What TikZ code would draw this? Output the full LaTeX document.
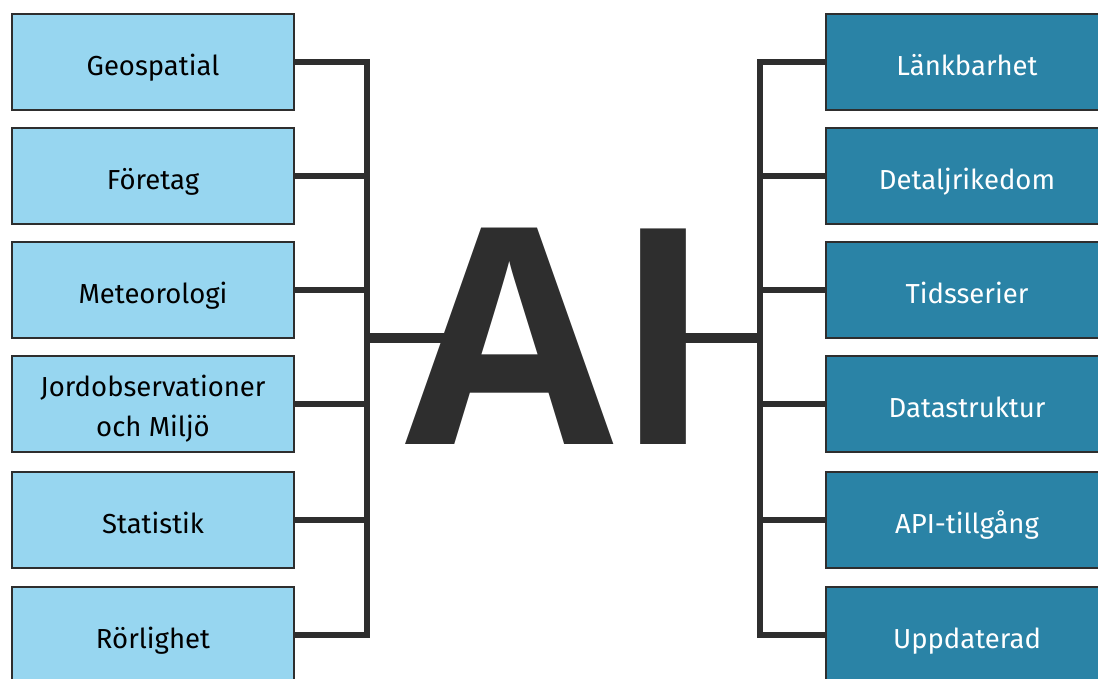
\documentclass[tikz,border=0pt]{standalone}
\usepackage{fontspec}
\setmainfont{Fira Sans}
\newfontfamily\aifont{Open Sans}
\usetikzlibrary{positioning}

\definecolor{ljusbla}{HTML}{97D6F0}
\definecolor{morkbla}{HTML}{2A83A6}
\definecolor{kol}{HTML}{2E2E2E}

\tikzset{
  kalla/.style={draw=kol, line width=2pt, fill=ljusbla, minimum width=282pt,
    minimum height=96pt, inner sep=0pt, align=center,
    font=\fontsize{27.5}{40}\selectfont},
  rad/.style={text height=26pt, text depth=0pt},
  krav/.style={kalla, rad, fill=morkbla, text=white},
  gren/.style={draw=kol, line width=6.5pt},
}

\begin{document}
\begin{tikzpicture}[x=1pt,y=-1pt]
  \useasboundingbox (0,0) rectangle (1098,678);
  \clip (0,0) rectangle (1098,678);
  \coordinate (navV) at (367,338);
  \coordinate (navH) at (760,338);
  \coordinate (aiV) at (445,338);
  \coordinate (aiH) at (680,338);

  %% datakallor
  \node[kalla, rad] (geo) at (153,62) {Geospatial};
  \node[kalla, rad] (foretag) at (153,176) {Företag};
  \node[kalla, rad] (meteo) at (153,290) {Meteorologi};
  \node[kalla] (jord) at (153,404)
    {\rule{0pt}{31pt}Jordobservationer\\och Miljö};
  \node[kalla, rad] (stat) at (153,520) {Statistik};
  \node[kalla, rad] (rorlig) at (153,635) {Rörlighet};

  %% egenskaper
  \node[krav] (lank) at (967,62) {Länkbarhet};
  \node[krav] (detalj) at (967,176) {Detaljrikedom};
  \node[krav] (tids) at (967,290) {Tidsserier};
  \node[krav] (datastr) at (967,404) {Datastruktur};
  \node[krav] (api) at (967,520) {API-tillgång};
  \node[krav] (uppd) at (967,635) {Uppdaterad};

  \draw[gren] (geo.east) -| (navV);
  \draw[gren] (foretag.east) -| (navV);
  \draw[gren] (meteo.east) -| (navV);
  \draw[gren] (jord.east) -| (navV);
  \draw[gren] (stat.east) -| (navV);
  \draw[gren] (rorlig.east) -| (navV);

  \draw[gren] (lank.west) -| (navH);
  \draw[gren] (detalj.west) -| (navH);
  \draw[gren] (tids.west) -| (navH);
  \draw[gren] (datastr.west) -| (navH);
  \draw[gren] (api.west) -| (navH);
  \draw[gren] (uppd.west) -| (navH);

  \draw[kol, line width=10pt] (navV) -- (aiV);
  \draw[kol, line width=10pt] (aiH) -- (navH);
  \node[text=kol, inner sep=0pt, anchor=base west,
    font=\aifont\bfseries\fontsize{302}{302}\selectfont] (ai) at (405,444) {AI};
\end{tikzpicture}
\end{document}
